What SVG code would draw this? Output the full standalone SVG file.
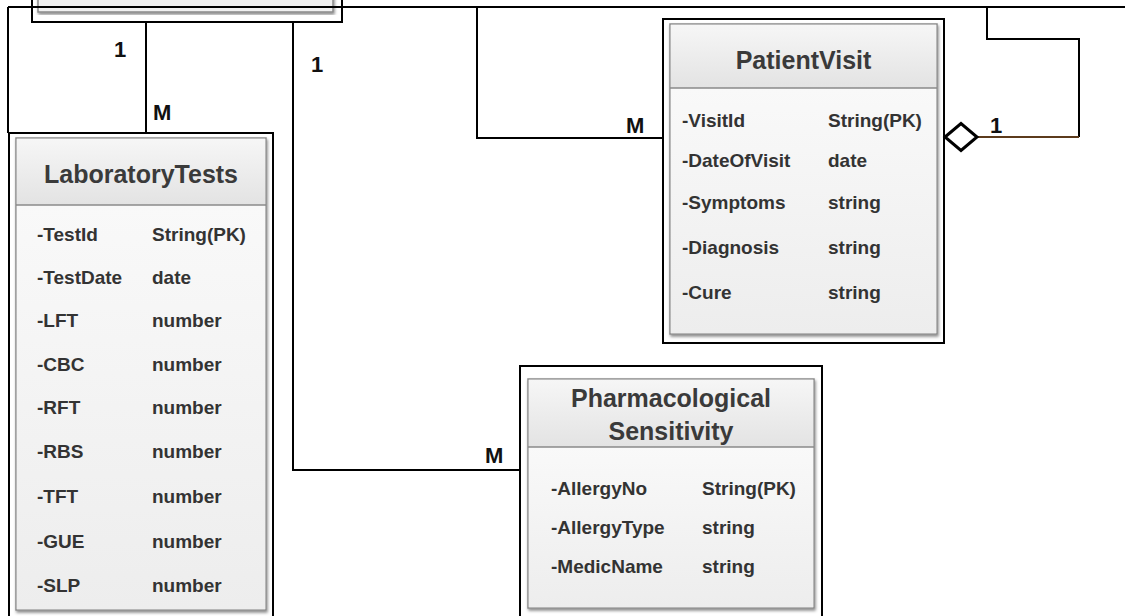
<svg xmlns="http://www.w3.org/2000/svg" width="1125" height="616" viewBox="0 0 1125 616">
  <defs>
    <linearGradient id="headFill" x1="0" y1="0" x2="0" y2="1">
      <stop offset="0" stop-color="#f6f6f6"/>
      <stop offset="1" stop-color="#e3e3e3"/>
    </linearGradient>
    <linearGradient id="bodyFill" x1="0" y1="0" x2="0" y2="1">
      <stop offset="0" stop-color="#f9f9f9"/>
      <stop offset="1" stop-color="#ededed"/>
    </linearGradient>
    <filter id="shadow" x="-5%" y="-5%" width="110%" height="115%">
      <feDropShadow dx="1" dy="2" stdDeviation="1.5" flood-color="#000" flood-opacity="0.45"/>
    </filter>
  </defs>
  <style>
    .frame { fill: #ffffff; stroke: #000000; stroke-width: 2; }
    .card { stroke: #8a8a8a; stroke-width: 1.5; filter: url(#shadow); }
    .head { fill: url(#headFill); stroke: none; }
    .body { fill: url(#bodyFill); stroke: none; }
    .divider { stroke: #8a8a8a; stroke-width: 1.5; }
    .title { font-family: "Liberation Sans", Arial, sans-serif; font-weight: bold; font-size: 25px; fill: #3a3a3a; text-anchor: middle; }
    .attr { font-family: "Liberation Sans", Arial, sans-serif; font-weight: bold; font-size: 19px; fill: #333333; }
    .wire { fill: none; stroke: #000000; stroke-width: 2; }
    .wire-brown { fill: none; stroke: #5c3b1c; stroke-width: 2; }
    .mult { font-family: "Liberation Sans", Arial, sans-serif; font-weight: bold; font-size: 22px; fill: #111111; }
  </style>

  <rect width="1125" height="616" fill="#ffffff"/>

  <!-- entity running off the top edge -->
  <g id="node-top-entity">
    <rect class="frame" x="32" y="-10" width="310" height="32"/>
    <rect class="card" x="38" y="-10" width="295" height="22" fill="#f0f0f0"/>
  </g>

  <!-- LaboratoryTests -->
  <g id="node-laboratory-tests">
    <rect class="frame" x="9" y="133" width="264" height="500"/>
    <rect class="card" x="16" y="138" width="250" height="472" fill="#f2f2f2"/>
    <rect class="head" x="16.75" y="138.75" width="248.5" height="66"/>
    <rect class="body" x="16.75" y="205" width="248.5" height="404.25"/>
    <line class="divider" x1="16" y1="205" x2="266" y2="205"/>
    <text class="title" x="141" y="183">LaboratoryTests</text>
    <g class="attr">
      <text x="37" y="241">-TestId</text><text x="152" y="241">String(PK)</text>
      <text x="37" y="284">-TestDate</text><text x="152" y="284">date</text>
      <text x="37" y="327">-LFT</text><text x="152" y="327">number</text>
      <text x="37" y="371">-CBC</text><text x="152" y="371">number</text>
      <text x="37" y="414">-RFT</text><text x="152" y="414">number</text>
      <text x="37" y="458">-RBS</text><text x="152" y="458">number</text>
      <text x="37" y="503">-TFT</text><text x="152" y="503">number</text>
      <text x="37" y="548">-GUE</text><text x="152" y="548">number</text>
      <text x="37" y="592">-SLP</text><text x="152" y="592">number</text>
    </g>
  </g>

  <!-- PatientVisit -->
  <g id="node-patient-visit">
    <rect class="frame" x="663" y="19" width="281" height="324"/>
    <rect class="card" x="670" y="24" width="267" height="310" fill="#f2f2f2"/>
    <rect class="head" x="670.75" y="24.75" width="265.5" height="63.25"/>
    <rect class="body" x="670.75" y="88" width="265.5" height="245.25"/>
    <line class="divider" x1="670" y1="88" x2="937" y2="88"/>
    <text class="title" x="803.5" y="69">PatientVisit</text>
    <g class="attr">
      <text x="682" y="127">-VisitId</text><text x="828" y="127">String(PK)</text>
      <text x="682" y="167">-DateOfVisit</text><text x="828" y="167">date</text>
      <text x="682" y="209">-Symptoms</text><text x="828" y="209">string</text>
      <text x="682" y="254">-Diagnosis</text><text x="828" y="254">string</text>
      <text x="682" y="299">-Cure</text><text x="828" y="299">string</text>
    </g>
  </g>

  <!-- Pharmacological Sensitivity -->
  <g id="node-pharmacological-sensitivity">
    <rect class="frame" x="520" y="366" width="302" height="270"/>
    <rect class="card" x="528" y="379" width="286" height="229" fill="#f2f2f2"/>
    <rect class="head" x="528.75" y="379.75" width="284.5" height="67.25"/>
    <rect class="body" x="528.75" y="447" width="284.5" height="160.25"/>
    <line class="divider" x1="528" y1="447" x2="814" y2="447"/>
    <text class="title" x="671" y="407">Pharmacological</text>
    <text class="title" x="671" y="440">Sensitivity</text>
    <g class="attr">
      <text x="551" y="495">-AllergyNo</text><text x="702" y="495">String(PK)</text>
      <text x="551" y="534">-AllergyType</text><text x="702" y="534">string</text>
      <text x="551" y="573">-MedicName</text><text x="702" y="573">string</text>
    </g>
  </g>

  <!-- relationships and multiplicities -->
  <g id="connectors">
    <path class="wire" d="M8,7 H1125"/>
    <path class="wire" d="M8,7 V133"/>
    <path class="wire" d="M146,22 V133"/>
    <path class="wire" d="M293,22 V470 H519"/>
    <path class="wire" d="M477,7 V138 H663"/>
    <path class="wire" d="M987,7 V39 H1079 V137"/>
    <path class="wire-brown" d="M977,137 H1079"/>
    <polygon points="945,137 961,123.5 977,137 961,150.5" fill="#ffffff" stroke="#000000" stroke-width="3" stroke-linejoin="miter"/>
    <text class="mult" x="114" y="57">1</text>
    <text class="mult" x="153" y="120">M</text>
    <text class="mult" x="311" y="72">1</text>
    <text class="mult" x="485" y="463">M</text>
    <text class="mult" x="626" y="133">M</text>
    <text class="mult" x="990" y="133">1</text>
  </g>
</svg>
